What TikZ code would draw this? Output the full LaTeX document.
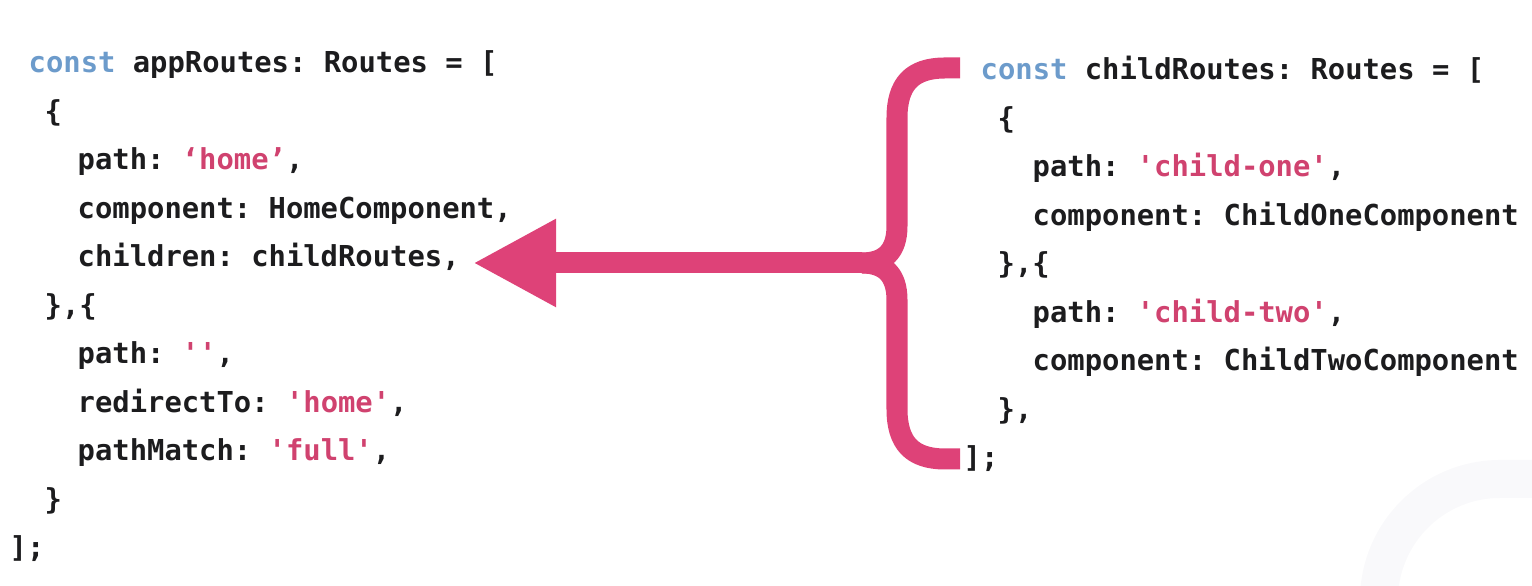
\documentclass[tikz,border=0pt]{standalone}
\usepackage{fontspec}
\setmonofont{DejaVu Sans Mono}
\usetikzlibrary{arrows.meta}

\definecolor{codeink}{HTML}{1C1C1E}
\definecolor{kwblue}{HTML}{6C9BCB}
\definecolor{strpink}{HTML}{D0426F}
\definecolor{bracepink}{HTML}{DE4278}
\definecolor{ghost}{HTML}{F9F9FB}

\newcommand{\kwd}[1]{\textcolor{kwblue}{#1}}
\newcommand{\strlit}[1]{\textcolor{strpink}{#1}}
\newcommand{\sq}{\textquotesingle}

\tikzset{
  code/.style={font=\fontsize{8.2}{10}\selectfont\ttfamily\bfseries, text=codeink,
    anchor=base west, inner sep=0pt},
  bracestroke/.style={draw=bracepink, line width=0.21cm, line join=round},
}

\begin{document}
\begin{tikzpicture}[x=0.01cm, y=-0.01cm]
	\useasboundingbox (0,0) rectangle (1532,586);
	
	% faint ring in the corner
	\draw[ghost, line width=0.38cm] (1379,600) arc (180:270:121) -- (1560,479);
	
	% appRoutes
	\node[code] (aConst) at (28,73) {\kwd{const} appRoutes: Routes = [};
	\node[code] (aOpen) at (44,121.5) {\{};
	\node[code] (aPath) at (77,170) {path: \strlit{‘home’},};
	\node[code] (aComp) at (77,218.5) {component: HomeComponent,};
	\node[code] (aChild) at (77,267) {children: childRoutes,};
	\node[code] (aNext) at (44,315.5) {\},\{};
	\node[code] (aPath2) at (77,364) {path: \strlit{\sq\sq},};
	\node[code] (aRedir) at (77,412.5) {redirectTo: \strlit{\sq home\sq},};
	\node[code] (aMatch) at (77,461) {pathMatch: \strlit{\sq full\sq},};
	\node[code] (aClose) at (44,509.5) {\}};
	\node[code] (aEnd) at (9,558) {];};
	
	% childRoutes
	\node[code] (cConst) at (980,80) {\kwd{const} childRoutes: Routes = [};
	\node[code] (cOpen) at (997,128.5) {\{};
	\node[code] (cPath1) at (1032,177) {path: \strlit{\sq child-one\sq},};
	\node[code] (cComp1) at (1032,225.5) {component: ChildOneComponent};
	\node[code] (cNext) at (997,274) {\},\{};
	\node[code] (cPath2) at (1032,322.5) {path: \strlit{\sq child-two\sq},};
	\node[code] (cComp2) at (1032,371) {component: ChildTwoComponent};
	\node[code] (cClose) at (997,419.5) {\},};
	\node[code] (cEnd) at (963,468) {];};
	
	% brace round childRoutes
	\coordinate (braceTop) at (960,68);
	\coordinate (braceBot) at (960,459);
	\coordinate (join) at (862,263);
	\coordinate (tip) at (473,263);
	\draw[bracestroke] (braceTop) -- (945,68) .. controls (912,68) and (897,84) .. (897,118)
		-- (897,226) .. controls (897,252) and (884,263) .. (join);
	\draw[bracestroke] (braceBot) -- (945,459) .. controls (912,459) and (897,443) .. (897,409)
		-- (897,300) .. controls (897,274) and (884,263) .. (join);
	
	% arrow to children
	\draw[bracestroke, -{Triangle[length=0.83cm, width=0.82cm]}] (join) -- (tip);
	
\end{tikzpicture}
\end{document}
